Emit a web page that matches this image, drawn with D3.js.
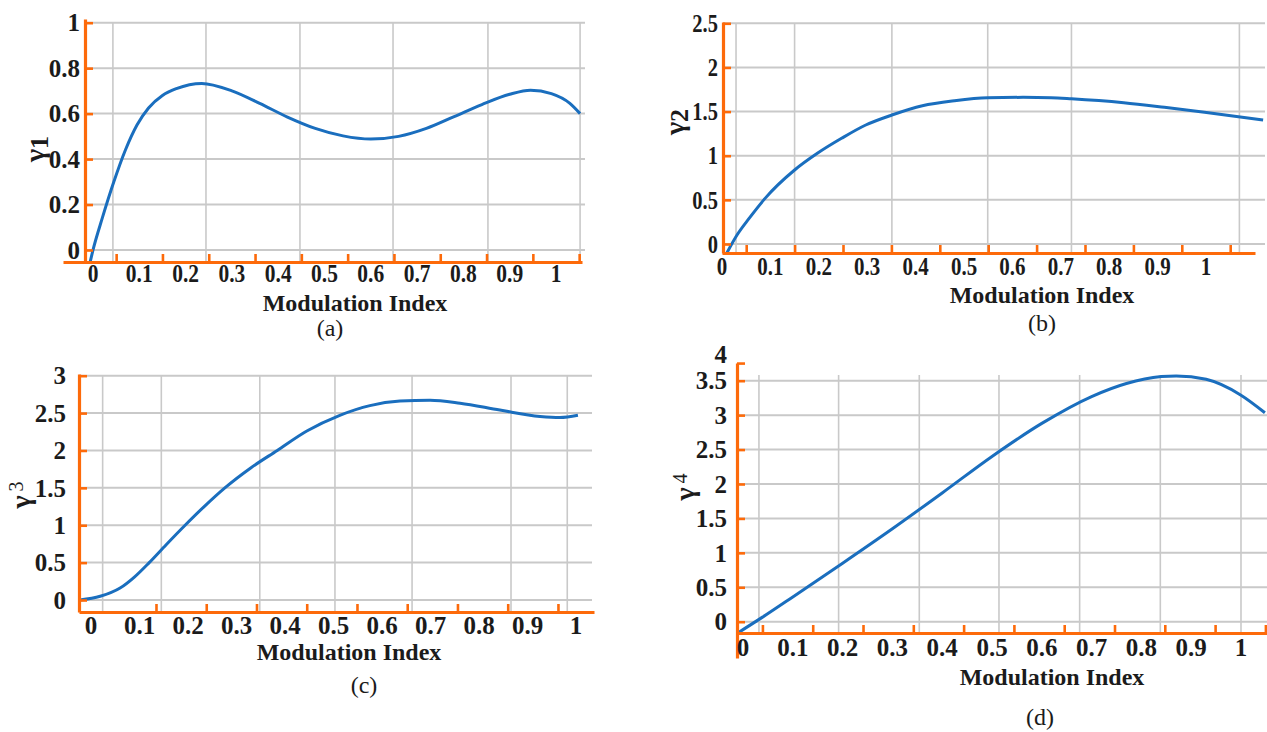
<!DOCTYPE html>
<html>
<head>
<meta charset="utf-8">
<script src="https://cdn.jsdelivr.net/npm/d3@7"></script>
<style>
  body { margin: 0; background: #fff; }
  text { font-family: 'Liberation Serif', 'Times New Roman', serif; fill: #1b1b1b; }
</style>
</head>
<body>
<svg id="chart" width="1267" height="732"></svg>
<script>
// tick labels shared by all four panels
const xTickLabels = [0, 0.1, 0.2, 0.3, 0.4, 0.5, 0.6, 0.7, 0.8, 0.9, 1]

// (a) gamma 1
const modIndexA = [-0.006, 0, 0.02, 0.045, 0.07, 0.095, 0.12, 0.15, 0.18, 0.235, 0.3, 0.36, 0.42, 0.48, 0.54, 0.6, 0.66, 0.72, 0.78, 0.84, 0.9, 0.945, 0.99, 1.03, 1.052]
const gamma1 = [-0.051, 0, 0.14, 0.3, 0.44, 0.55, 0.625, 0.68, 0.71, 0.733, 0.7, 0.645, 0.585, 0.535, 0.502, 0.488, 0.5, 0.535, 0.587, 0.64, 0.685, 0.703, 0.688, 0.645, 0.6]
const yTicksA = [0, 0.2, 0.4, 0.6, 0.8, 1]
const gridXA = [0.043, 0.244, 0.447, 0.648, 0.853, 1.052]

// (b) gamma 2
const modIndexB = [0.0097, 0.031, 0.056, 0.089, 0.15, 0.197, 0.247, 0.297, 0.351, 0.414, 0.48, 0.549, 0.622, 0.68, 0.722, 0.83, 0.914, 0.997, 1.118]
const gamma2 = [-0.105, 0.102, 0.29, 0.517, 0.838, 1.027, 1.197, 1.348, 1.461, 1.566, 1.623, 1.657, 1.661, 1.657, 1.645, 1.6, 1.548, 1.492, 1.404]
const yTicksB = [0, 0.5, 1, 1.5, 2, 2.5]
const gridXB = [0.029, 0.15, 0.351, 0.549, 0.722, 1.069]

// (c) gamma 3
const modIndexC = [-0.023, 0.019, 0.06, 0.09, 0.12, 0.155, 0.194, 0.235, 0.276, 0.33, 0.384, 0.445, 0.513, 0.575, 0.637, 0.699, 0.761, 0.843, 0.926, 0.967, 1.004]
const gamma3 = [0, 0.05, 0.16, 0.31, 0.5, 0.74, 1.0, 1.26, 1.5, 1.77, 2.0, 2.26, 2.47, 2.6, 2.66, 2.672, 2.632, 2.54, 2.455, 2.44, 2.47]
const yTicksC = [0, 0.5, 1, 1.5, 2, 2.5, 3]
const gridXC = [0.024, 0.145, 0.348, 0.503, 0.662, 0.866, 0.982]

// (d) gamma 4
const modIndexD = [-0.012, 0.04, 0.1, 0.2, 0.3, 0.4, 0.5, 0.6, 0.7, 0.77, 0.84, 0.87, 0.93, 1.0, 1.048]
const gamma4 = [-0.17, 0.07, 0.36, 0.85, 1.35, 1.87, 2.4, 2.88, 3.27, 3.46, 3.56, 3.57, 3.52, 3.29, 3.035]
const yTicksD = [0, 0.5, 1, 1.5, 2, 2.5, 3, 3.5, 4]
const gridXD = [0.032, 0.192, 0.354, 0.514, 0.676, 0.838, 1.0]

const orange = '#fd6a0a'
const blue = '#1a6ebe'
const gridColor = '#c9c9c9'

// layout of each pasted sub-figure
const panels = [
  { x: modIndexA, y: gamma1, yTicks: yTicksA, gridX: gridXA, gridYMax: 1, sub: '1', sup: false,
    xRange: [93, 556], yRange: [250, 22.7], yDomainMax: 1,
    axisX: 85, axisTop: 19, axisBottom: 263, axisY: 262, axisLeft: 63, axisRight: 582, gridRight: 585,
    tick0: 0.05, tickStep: 0.1, tickN: 11, xSqueeze: 0.86, ySqueeze: 1, labelRight: 80, labelBase: 282,
    title: [355, 311], caption: [330, 336], yLab: [36, 149], captionText: '(a)' },
  { x: modIndexB, y: gamma2, yTicks: yTicksB, gridX: gridXB, gridYMax: 2.5, sub: '2', sup: false,
    xRange: [722, 1206], yRange: [244, 23.3], yDomainMax: 2.5,
    axisX: 723, axisTop: 22, axisBottom: 253, axisY: 253, axisLeft: 722, axisRight: 1255, gridRight: 1265,
    tick0: 0.05, tickStep: 0.1, tickN: 11, xSqueeze: 0.84, ySqueeze: 0.82, labelRight: 718, labelBase: 275,
    title: [1042, 303], caption: [1042, 331], yLab: [676, 122], captionText: '(b)' },
  { x: modIndexC, y: gamma3, yTicks: yTicksC, gridX: gridXC, gridYMax: 3, sub: '3', sup: true,
    xRange: [91, 576], yRange: [600, 375.7], yDomainMax: 3,
    axisX: 79, axisTop: 374, axisBottom: 612, axisY: 612, axisLeft: 79, axisRight: 594, gridRight: 592,
    tick0: 0.134, tickStep: 0.1036, tickN: 9, xSqueeze: 1, ySqueeze: 1, labelRight: 66, labelBase: 634,
    title: [349, 660], caption: [364, 693], yLab: [22, 495], captionText: '(c)' },
  { x: modIndexD, y: gamma4, yTicks: yTicksD, gridX: gridXD, gridYMax: 3.5, sub: '4', sup: true,
    xRange: [743, 1241], yRange: [621.7, 380.7], yDomainMax: 3.5,
    axisX: 737, axisTop: 363, axisBottom: 658, axisY: 633, axisLeft: 737, axisRight: 1267, gridRight: 1267,
    tick0: 0.039, tickStep: 0.101, tickN: 11, xSqueeze: 1, ySqueeze: 1, labelRight: 727, labelBase: 656,
    title: [1052, 685], caption: [1040, 725], yLab: [686, 487], captionText: '(d)' }
]

const svg = d3.select('#chart')

panels.forEach(function(p) {
  const g = svg.append('g')

  const xScale = d3.scaleLinear().domain([0, 1]).range(p.xRange)
  const yScale = d3.scaleLinear().domain([0, p.yDomainMax]).range(p.yRange)

  // gray grid
  g.selectAll('.hgrid')
    .data(p.yTicks.filter(d => d <= p.gridYMax))
    .enter()
    .append('line')
    .attr('x1', p.axisX)
    .attr('x2', p.gridRight)
    .attr('y1', d => yScale(d))
    .attr('y2', d => yScale(d))
    .attr('stroke', gridColor)
    .attr('stroke-width', 2)

  g.selectAll('.vgrid')
    .data(p.gridX)
    .enter()
    .append('line')
    .attr('x1', d => xScale(d))
    .attr('x2', d => xScale(d))
    .attr('y1', Math.min(yScale(p.gridYMax), p.axisTop + 12))
    .attr('y2', p.axisY)
    .attr('stroke', gridColor)
    .attr('stroke-width', 1.6)

  // curve
  const line = d3.line()
    .x(d => xScale(d[0]))
    .y(d => yScale(d[1]))
    .curve(d3.curveMonotoneX)

  g.append('path')
    .datum(d3.zip(p.x, p.y))
    .attr('d', line)
    .attr('fill', 'none')
    .attr('stroke', blue)
    .attr('stroke-width', 3)

  // orange axes
  const xAxisScale = d3.scaleLinear()
    .domain([xScale.invert(p.axisLeft), xScale.invert(p.axisRight)])
    .range([p.axisLeft, p.axisRight])
  const orangeTicks = d3.range(p.tickN).map(i => p.tick0 + i * p.tickStep)

  g.append('g')
    .attr('class', 'axis x-axis')
    .attr('transform', 'translate(0,' + p.axisY + ')')
    .call(d3.axisBottom(xAxisScale).tickValues(orangeTicks).tickSize(-8).tickSizeOuter(0).tickFormat(''))

  const yAxisScale = d3.scaleLinear()
    .domain([yScale.invert(p.axisBottom), yScale.invert(p.axisTop)])
    .range([p.axisBottom, p.axisTop])

  g.append('g')
    .attr('class', 'axis y-axis')
    .attr('transform', 'translate(' + p.axisX + ',0)')
    .call(d3.axisLeft(yAxisScale).tickValues(p.yTicks.map(d => Math.min(d, yAxisScale.domain()[1] - 0.001))).tickSize(-8).tickSizeOuter(0).tickFormat(''))

  g.selectAll('.axis path').attr('stroke', orange).attr('stroke-width', 3.2)
  g.selectAll('.axis line').attr('stroke', orange).attr('stroke-width', 2.6)

  // tick labels
  g.selectAll('.xlab')
    .data(xTickLabels)
    .enter()
    .append('text')
    .attr('transform', d => 'translate(' + xScale(d) + ',' + p.labelBase + ') scale(' + p.xSqueeze + ',1)')
    .attr('text-anchor', 'middle')
    .attr('font-size', 25)
    .attr('font-weight', 'bold')
    .text(d => d)

  g.selectAll('.ylab')
    .data(p.yTicks)
    .enter()
    .append('text')
    .attr('transform', d => 'translate(' + p.labelRight + ',' + Math.max(yScale(d), p.axisTop - 9) + ') scale(' + p.ySqueeze + ',1)')
    .attr('text-anchor', 'end')
    .attr('dy', '0.35em')
    .attr('font-size', 25)
    .attr('font-weight', 'bold')
    .text(d => d)

  // axis title, y label and caption
  g.append('text')
    .attr('x', p.title[0])
    .attr('y', p.title[1])
    .attr('text-anchor', 'middle')
    .attr('font-size', 24)
    .attr('font-weight', 'bold')
    .text('Modulation Index')

  g.append('text')
    .attr('x', p.caption[0])
    .attr('y', p.caption[1])
    .attr('text-anchor', 'middle')
    .attr('font-size', 24)
    .text(p.captionText)

  const yl = g.append('text')
    .attr('transform', 'translate(' + p.yLab[0] + ',' + p.yLab[1] + ') rotate(-90)')
    .attr('text-anchor', 'middle')
    .attr('dy', '0.3em')
    .attr('font-size', 28)
    .attr('font-weight', 'bold')
  yl.append('tspan').text('γ')
  if (p.sup) {
    yl.append('tspan').attr('dx', 4).attr('dy', -7).attr('font-size', 20).attr('font-weight', 'normal').text(p.sub)
  } else {
    yl.append('tspan').attr('dy', 4).attr('font-size', 26).text(p.sub)
  }
})
</script>
</body>
</html>
